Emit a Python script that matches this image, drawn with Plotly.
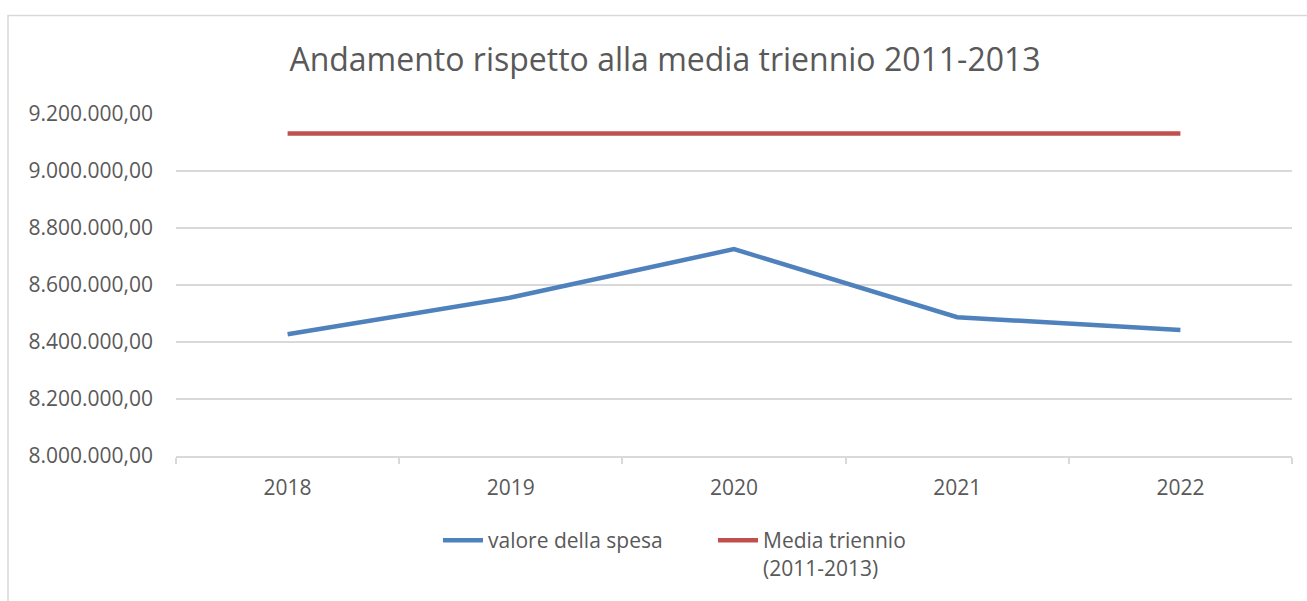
import plotly.graph_objects as go

years = ["2018", "2019", "2020", "2021", "2022"]
valore_spesa = [8427000, 8556000, 8726000, 8487000, 8442000]
media_triennio = [9132000, 9132000, 9132000, 9132000, 9132000]
y_ticks = [8000000, 8200000, 8400000, 8600000, 8800000, 9000000, 9200000]

FONT = "Open Sans"
GREY = "#595959"
GRID = "#d9d9d9"

fig = go.Figure()
fig.add_trace(go.Scatter(x=years, y=valore_spesa, mode="lines", name="valore della spesa",
                         line=dict(color="#4f81bd", width=4.5)))
fig.add_trace(go.Scatter(x=years, y=media_triennio, mode="lines", name="Media triennio<br>(2011-2013)",
                         line=dict(color="#c0504d", width=4.5)))

W, H = 1307, 601
L, R, T, B = 176, 15, 114, 145
pw, ph = W - L - R, H - T - B

def px_x(p):
    return (p - L) / pw

def px_y(p):
    return (H - B - p) / ph

fig.update_layout(
    width=W, height=H,
    margin=dict(l=L, r=R, t=T, b=B),
    paper_bgcolor="white", plot_bgcolor="white",
    separators=",.",
    font=dict(family=FONT, color=GREY, size=21),
    title=dict(text="Andamento rispetto alla media triennio 2011-2013",
               x=665 / W, xanchor="center", xref="container",
               y=1 - 60 / H, yanchor="middle", yref="container",
               font=dict(family=FONT, size=32, color=GREY)),
    showlegend=True,
    legend=dict(orientation="h", x=px_x(438), xanchor="left", y=px_y(520), yanchor="top",
                font=dict(family=FONT, size=21, color=GREY), valign="top",
                itemwidth=40, entrywidth=220, entrywidthmode="pixels",
                bgcolor="rgba(0,0,0,0)"),
    hovermode=False,
    shapes=[dict(type="rect", xref="paper", yref="paper",
                 x0=px_x(8), x1=px_x(1320), y0=px_y(620), y1=px_y(15.5),
                 line=dict(color=GRID, width=1.5), layer="below")],
)

fig.update_xaxes(type="category", range=[-0.5, 4.5], showgrid=False, showline=True,
                 linecolor=GRID, linewidth=1.5, ticks="outside", tickson="boundaries",
                 ticklen=6, tickcolor=GRID, tickwidth=1.5, ticklabelstandoff=12,
                 tickfont=dict(family=FONT, size=21, color=GREY))
fig.update_yaxes(range=[8000000, 9200000], tickvals=y_ticks, tickformat=",.2f",
                 showgrid=True, gridcolor=GRID, gridwidth=1.5, zeroline=False, showline=False,
                 ticks="", ticklabelstandoff=22,
                 tickfont=dict(family=FONT, size=21, color=GREY))

fig.write_html("out.html", config={"displayModeBar": False},
               post_script="document.body.style.margin='0';")
